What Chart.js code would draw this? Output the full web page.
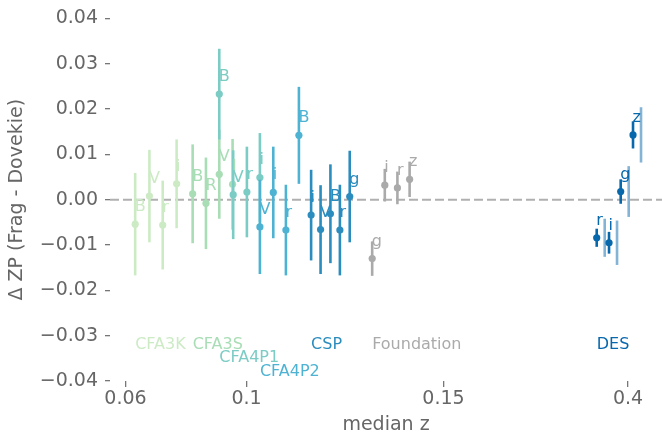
<!DOCTYPE html>
<html>
<head>
<meta charset="utf-8">
<script src="https://cdn.jsdelivr.net/npm/chart.js@4.4.1/dist/chart.umd.min.js"></script>
<style>
  html, body { margin: 0; padding: 0; background: #fff; }
  canvas { display: block; }
</style>
</head>
<body>
<canvas id="zp-chart" width="662" height="439"></canvas>
<script>
const SURVEYS = ['CFA3K', 'CFA3S', 'CFA4P1', 'CFA4P2', 'CSP', 'Foundation', 'DES']
const SURVEY_COLORS = ['#ccebc5', '#a8ddb5', '#7bccc4', '#4eb3d3', '#2b8cbe', '#aaaaaa', '#0868ac']
// vertical slot (in ΔZP units) for each survey name along the bottom
const SURVEY_LABEL_Y = [-0.032, -0.032, -0.035, -0.038, -0.032, -0.032, -0.032]

const CFA3K_BANDS = ['B', 'V', 'r', 'i']
const CFA3K_Z     = [0.0632, 0.0679, 0.0723, 0.0769]
const CFA3K_DZP   = [-0.0054, 0.0008, -0.0056, 0.0035]
const CFA3K_ERR   = [0.0113, 0.0102, 0.0098, 0.0098]

const CFA3S_BANDS = ['B', 'R', 'V', 'I']
const CFA3S_Z     = [0.0822, 0.0866, 0.0910, 0.0954]
const CFA3S_DZP   = [0.0013, -0.0008, 0.0056, 0.0034]
const CFA3S_ERR   = [0.0109, 0.0101, 0.0098, 0.0100]

const CFA4P1_BANDS = ['B', 'V', 'r', 'i']
const CFA4P1_Z     = [0.0910, 0.0956, 0.1001, 0.1034]
const CFA4P1_DZP   = [0.0233, 0.0011, 0.0017, 0.0049]
const CFA4P1_ERR   = [0.0100, 0.0098, 0.0100, 0.0098]

const CFA4P2_BANDS = ['V', 'i', 'r', 'B']
const CFA4P2_Z     = [0.1034, 0.1068, 0.1100, 0.1133]
const CFA4P2_DZP   = [-0.0060, 0.0016, -0.0067, 0.0142]
const CFA4P2_ERR   = [0.0104, 0.0101, 0.0100, 0.0107]

const CSP_BANDS = ['i', 'V', 'B', 'r', 'g']
const CSP_Z     = [0.1164, 0.1188, 0.1213, 0.1237, 0.1262]
const CSP_DZP   = [-0.0034, -0.0066, -0.0031, -0.0067, 0.0007]
const CSP_ERR   = [0.0100, 0.0098, 0.0109, 0.0100, 0.0101]

const FOUND_BANDS = ['g', 'i', 'r', 'z']
const FOUND_Z     = [0.1319, 0.1351, 0.1383, 0.1414]
const FOUND_DZP   = [-0.0130, 0.0032, 0.0026, 0.0045]
const FOUND_ERR   = [0.0038, 0.0036, 0.0036, 0.0039]

const DES_BANDS   = ['r', 'i', 'g', 'z']
const DES_Z       = [0.3576, 0.3743, 0.3901, 0.4068]
const DES_DZP     = [-0.0084, -0.0095, 0.0018, 0.0143]
const DES_ERR     = [0.0020, 0.0024, 0.0027, 0.0030]
const DES_ERR_SYS = [0.0042, 0.0049, 0.0056, 0.0061]

// the redshift axis is stretched piecewise between its ticks
const X_TICKS       = [0.06, 0.1, 0.15, 0.4]
const X_TICK_LABELS = ['0.06', '0.1', '0.15', '0.4']
const X_TICK_POS    = [0, 1.21, 3.18, 5.025]
const Y_TICKS       = [-0.04, -0.03, -0.02, -0.01, 0, 0.01, 0.02, 0.03, 0.04]

const FONT = '"DejaVu Sans", sans-serif'
const AXIS_TEXT = '#666'

function zToAxis(z) {
  let i = 0
  while (i < X_TICKS.length - 2 && z > X_TICKS[i + 1]) i++
  const t = (z - X_TICKS[i]) / (X_TICKS[i + 1] - X_TICKS[i])
  return X_TICK_POS[i] + t * (X_TICK_POS[i + 1] - X_TICK_POS[i])
}

function fmtY(v) {
  if (Math.abs(v) < 1e-9) return '0.00'
  const s = Math.abs(v).toFixed(2)
  return v < 0 ? '\u2212' + s : s
}

const groups = [
  [CFA3K_BANDS, CFA3K_Z, CFA3K_DZP, CFA3K_ERR, null],
  [CFA3S_BANDS, CFA3S_Z, CFA3S_DZP, CFA3S_ERR, null],
  [CFA4P1_BANDS, CFA4P1_Z, CFA4P1_DZP, CFA4P1_ERR, null],
  [CFA4P2_BANDS, CFA4P2_Z, CFA4P2_DZP, CFA4P2_ERR, null],
  [CSP_BANDS, CSP_Z, CSP_DZP, CSP_ERR, null],
  [FOUND_BANDS, FOUND_Z, FOUND_DZP, FOUND_ERR, null],
  [DES_BANDS, DES_Z, DES_DZP, DES_ERR, DES_ERR_SYS]
]

const datasets = groups.map(([bands, zs, dzp, err, sys], k) => ({
  label: SURVEYS[k],
  data: zs.map((z, i) => ({ x: zToAxis(z), y: dzp[i] })),
  bands, err, sys,
  color: SURVEY_COLORS[k],
  // later surveys sit on top
  order: groups.length - k,
  pointRadius: 3.6,
  pointBackgroundColor: SURVEY_COLORS[k],
  pointBorderWidth: 0
}))

// dashed zero line underneath everything
const zeroLine = {
  id: 'zeroLine',
  beforeDatasetsDraw(chart) {
    const { ctx, chartArea, scales } = chart
    const y = scales.y.getPixelForValue(0)
    ctx.save()
    ctx.strokeStyle = '#b0b0b0'
    ctx.lineWidth = 2
    ctx.setLineDash([9, 4])
    ctx.beginPath()
    ctx.moveTo(chartArea.left, y)
    ctx.lineTo(chartArea.right, y)
    ctx.stroke()
    ctx.restore()
  }
}

// error bars drawn just before each survey's markers
const errorBars = {
  id: 'errorBars',
  beforeDatasetDraw(chart, args) {
    const ds = chart.data.datasets[args.index]
    const { ctx, scales } = chart
    ctx.save()
    ctx.lineWidth = 2.6
    ds.data.forEach((p, i) => {
      const x = scales.x.getPixelForValue(p.x)
      if (ds.sys) {
        ctx.strokeStyle = 'rgba(8,104,172,0.5)'
        ctx.beginPath()
        ctx.moveTo(x + 8, scales.y.getPixelForValue(p.y - ds.sys[i]))
        ctx.lineTo(x + 8, scales.y.getPixelForValue(p.y + ds.sys[i]))
        ctx.stroke()
      }
      ctx.strokeStyle = ds.color
      ctx.beginPath()
      ctx.moveTo(x, scales.y.getPixelForValue(p.y - ds.err[i]))
      ctx.lineTo(x, scales.y.getPixelForValue(p.y + ds.err[i]))
      ctx.stroke()
    })
    ctx.restore()
  }
}

// band letters above each point and survey names along the bottom
const textLabels = {
  id: 'textLabels',
  afterDatasetsDraw(chart) {
    const { ctx, scales } = chart
    ctx.save()
    ctx.font = '16px ' + FONT
    ctx.textAlign = 'left'
    chart.data.datasets.forEach((ds, k) => {
      ctx.fillStyle = ds.color
      ctx.textBaseline = 'alphabetic'
      ds.data.forEach((p, i) => {
        const x = scales.x.getPixelForValue(p.x)
        const y = scales.y.getPixelForValue(p.y)
        ctx.fillText(ds.bands[i], x - 0.5, y - 13)
      })
      ctx.textBaseline = 'middle'
      ctx.fillText(ds.label, scales.x.getPixelForValue(ds.data[0].x), scales.y.getPixelForValue(SURVEY_LABEL_Y[k]))
    })
    ctx.restore()
  }
}

new Chart(document.getElementById('zp-chart').getContext('2d'), {
  type: 'scatter',
  data: { datasets },
  options: {
    responsive: false,
    animation: false,
    layout: { autoPadding: false, padding: { top: 15, right: 0, bottom: 0, left: 0 } },
    plugins: {
      legend: { display: false },
      tooltip: { enabled: false }
    },
    scales: {
      x: {
        type: 'linear',
        min: -0.155,
        max: 5.365,
        afterBuildTicks: s => { s.ticks = X_TICK_POS.map(v => ({ value: v })) },
        afterFit: s => { s.height = 58 },
        ticks: {
          callback: (v, i) => X_TICK_LABELS[i],
          autoSkip: false,
          maxRotation: 0,
          color: AXIS_TEXT,
          font: { family: FONT, size: 19 },
          padding: 1
        },
        grid: { display: true, drawOnChartArea: false, drawTicks: true, tickLength: 6, color: '#777', lineWidth: 1.3 },
        border: { display: false },
        title: {
          display: true,
          text: 'median z',
          color: AXIS_TEXT,
          font: { family: FONT, size: 19 },
          padding: { top: 0, bottom: 3 }
        }
      },
      y: {
        min: -0.04,
        max: 0.04,
        afterBuildTicks: s => { s.ticks = Y_TICKS.map(v => ({ value: v })) },
        afterFit: s => { s.width = 110 },
        ticks: {
          callback: v => fmtY(v),
          color: AXIS_TEXT,
          font: { family: FONT, size: 19 },
          padding: 7
        },
        grid: { display: true, drawOnChartArea: false, drawTicks: true, tickLength: 5, color: '#777', lineWidth: 1.3 },
        border: { display: false },
        title: {
          display: true,
          text: '\u0394 ZP (Frag - Dovekie)',
          color: AXIS_TEXT,
          font: { family: FONT, size: 19 },
          padding: { top: 6, bottom: 0 }
        }
      }
    }
  },
  plugins: [zeroLine, errorBars, textLabels]
})
</script>
</body>
</html>
